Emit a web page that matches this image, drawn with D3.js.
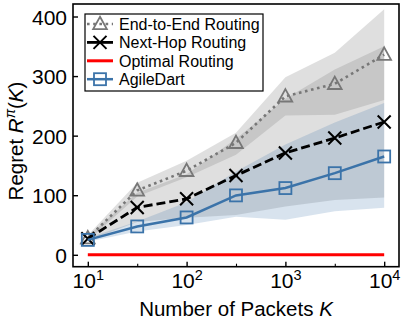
<!DOCTYPE html>
<html>
<head>
<meta charset="utf-8">
<script src="https://cdn.jsdelivr.net/npm/d3@7"></script>
<style>
	body { margin: 0; background: #fff; }
	svg { font-family: "Liberation Sans", Arial, sans-serif; }
</style>
</head>
<body>
<svg id="imagen" width="407" height="326"></svg>
<script>
// number of packets K (x positions)
const packets = [10, 31.62, 100, 316.2, 1000, 3162, 10000];

// End-to-End Routing
const eteMean = [28, 108, 141, 188, 266, 287, 336];
const eteLow = [24, 98, 130, 168, 234, 235, 260];
const eteHigh = [33, 121, 158, 205, 298, 339, 412];

// Next-Hop Routing
const nhMean = [27, 79.5, 94, 133, 171, 196, 223];
const nhLow = [24, 55, 62, 67, 81, 92, 96];
const nhHigh = [31, 104, 135, 195, 262, 311, 350];

// Optimal Routing
const optimal = [0, 0, 0, 0, 0, 0, 0];

// AgileDart
const agMean = [25, 47.6, 62.7, 99.7, 112, 137, 165];
const agLow = [22, 39, 50, 64, 59, 73, 79];
const agHigh = [28, 56, 88, 140, 185, 222, 255];

const yTicks = [0, 100, 200, 300, 400];
const xTicks = [10, 100, 1000, 10000];
const xMinor = [31.62, 316.2, 3162];

const legendNames = ["End-to-End Routing", "Next-Hop Routing", "Optimal Routing", "AgileDart"];

var margin = { top: 4, right: 8, bottom: 59.3, left: 73 };
var width = 407, height = 326;
var svg = d3.select("#imagen");

var x = d3.scaleLog()
	.domain([Math.pow(10, 0.85), Math.pow(10, 4.15)])
	.range([margin.left, width - margin.right]);
var y = d3.scaleLinear()
	.domain([-20, 421])
	.range([height - margin.bottom, margin.top]);

var grayC = "#777777", blueC = "#3b73a9", redC = "#ff0000";

var series = [
	{ name: legendNames[0], mean: eteMean, low: eteLow, high: eteHigh, color: grayC, band: "#808080", bandOp: 0.25, dash: "2.6,3.6", width: 2.6, marker: "tri" },
	{ name: legendNames[1], mean: nhMean, low: nhLow, high: nhHigh, color: "#000", band: "#808080", bandOp: 0.25, dash: "9,4", width: 2.8, marker: "x" },
	{ name: legendNames[2], mean: optimal, color: redC, dash: null, width: 3, marker: null },
	{ name: legendNames[3], mean: agMean, low: agLow, high: agHigh, color: blueC, band: blueC, bandOp: 0.2, dash: null, width: 2.5, marker: "sq" }
];

var area = d3.area()
	.x(d => x(d[0]))
	.y0(d => y(d[1]))
	.y1(d => y(d[2]));
var line = d3.line()
	.x(d => x(d[0]))
	.y(d => y(d[1]));

// bands
series.filter(s => s.low).forEach(s => {
	svg.append("path")
		.datum(packets.map((k, i) => [k, s.low[i], s.high[i]]))
		.attr("d", area)
		.attr("fill", s.band)
		.attr("fill-opacity", s.bandOp);
});

function drawMarker(g, type, cx, cy, color) {
	if (type === "tri") {
		var r = 7.2;
		g.append("path")
			.attr("d", `M${cx},${cy - r}L${cx + r * 0.95},${cy + r * 0.72}L${cx - r * 0.95},${cy + r * 0.72}Z`)
			.attr("fill", "none").attr("stroke", color).attr("stroke-width", 1.8);
	} else if (type === "x") {
		var h = 6.5;
		g.append("path")
			.attr("d", `M${cx - h},${cy - h}L${cx + h},${cy + h}M${cx - h},${cy + h}L${cx + h},${cy - h}`)
			.attr("fill", "none").attr("stroke", color).attr("stroke-width", 2);
	} else if (type === "sq") {
		var a = 6;
		g.append("rect")
			.attr("x", cx - a).attr("y", cy - a)
			.attr("width", 2 * a).attr("height", 2 * a)
			.attr("fill", "none").attr("stroke", color).attr("stroke-width", 1.8);
	}
}

// lines and markers
series.forEach(s => {
	var pts = packets.map((k, i) => [k, s.mean[i]]);
	var g = svg.append("g");
	g.append("path")
		.datum(pts)
		.attr("d", line)
		.attr("fill", "none")
		.attr("stroke", s.color)
		.attr("stroke-width", s.width)
		.attr("stroke-dasharray", s.dash);
	if (s.marker) pts.forEach(p => drawMarker(g, s.marker, x(p[0]), y(p[1]), s.color));
});

// frame
svg.append("rect")
	.attr("x", margin.left).attr("y", margin.top)
	.attr("width", width - margin.right - margin.left)
	.attr("height", height - margin.bottom - margin.top)
	.attr("fill", "none").attr("stroke", "#000").attr("stroke-width", 1.6);

// y axis
var yAxis = svg.append("g")
	.attr("transform", `translate(${margin.left},0)`)
	.call(d3.axisRight(y).tickValues(yTicks).tickSize(5).tickFormat(""))
	.call(g => g.select(".domain").remove())
	.call(g => g.selectAll(".tick line").attr("stroke-width", 1.4));
yAxis.selectAll(".tick")
	.append("text")
	.attr("x", -6)
	.attr("dy", "0.36em")
	.attr("text-anchor", "end")
	.attr("fill", "#000")
	.attr("font-size", 21)
	.text(d => d);

// x axis
var xAxis = svg.append("g")
	.attr("transform", `translate(0,${height - margin.bottom})`)
	.call(d3.axisTop(x).tickValues(xTicks).tickSize(5).tickFormat(""))
	.call(g => g.select(".domain").remove())
	.call(g => g.selectAll(".tick line").attr("stroke-width", 1.4));
var xl = xAxis.selectAll(".tick")
	.append("text")
	.attr("y", 21.5)
	.attr("text-anchor", "middle")
	.attr("fill", "#000")
	.attr("font-size", 21);
xl.append("tspan").text("10");
xl.append("tspan").attr("font-size", 14.5).attr("dy", -8.5).text(d => Math.round(Math.log10(d)));

svg.append("g")
	.attr("transform", `translate(0,${height - margin.bottom})`)
	.call(d3.axisTop(x).tickValues(xMinor).tickSize(3).tickFormat(""))
	.call(g => g.select(".domain").remove())
	.call(g => g.selectAll(".tick line").attr("stroke-width", 1.1));

// axis labels
var xt = svg.append("text")
	.attr("x", (margin.left + width - margin.right) / 2)
	.attr("y", 316)
	.attr("text-anchor", "middle")
	.attr("font-size", 20.5);
xt.append("tspan").text("Number of Packets ");
xt.append("tspan").attr("font-style", "italic").text("K");

var yt = svg.append("text")
	.attr("transform", "translate(23,141) rotate(-90)")
	.attr("text-anchor", "middle")
	.attr("font-size", 20.5);
yt.append("tspan").text("Regret ");
yt.append("tspan").attr("font-style", "italic").text("R");
yt.append("tspan").attr("font-style", "italic").attr("font-size", 14).attr("dy", -8).text("\u03c0");
yt.append("tspan").attr("dy", 8).text("(");
yt.append("tspan").attr("font-style", "italic").text("K");
yt.append("tspan").text(")");

// legend
var lg = svg.append("g");
lg.append("rect")
	.attr("x", 85).attr("y", 14)
	.attr("width", 178).attr("height", 77)
	.attr("fill", "#fff").attr("stroke", "#000").attr("stroke-width", 1.2);
series.forEach((s, i) => {
	var ly = 24 + i * 18.4;
	var g = lg.append("g");
	g.append("line")
		.attr("x1", 87).attr("x2", 113)
		.attr("y1", ly).attr("y2", ly)
		.attr("stroke", s.color)
		.attr("stroke-width", s.width)
		.attr("stroke-dasharray", s.marker === "tri" ? s.dash : null);
	if (s.marker) drawMarker(g, s.marker, 100, ly, s.color);
	g.append("text")
		.attr("x", 119).attr("y", ly)
		.attr("dy", "0.36em")
		.attr("font-size", 16)
		.text(s.name);
});
</script>
</body>
</html>
